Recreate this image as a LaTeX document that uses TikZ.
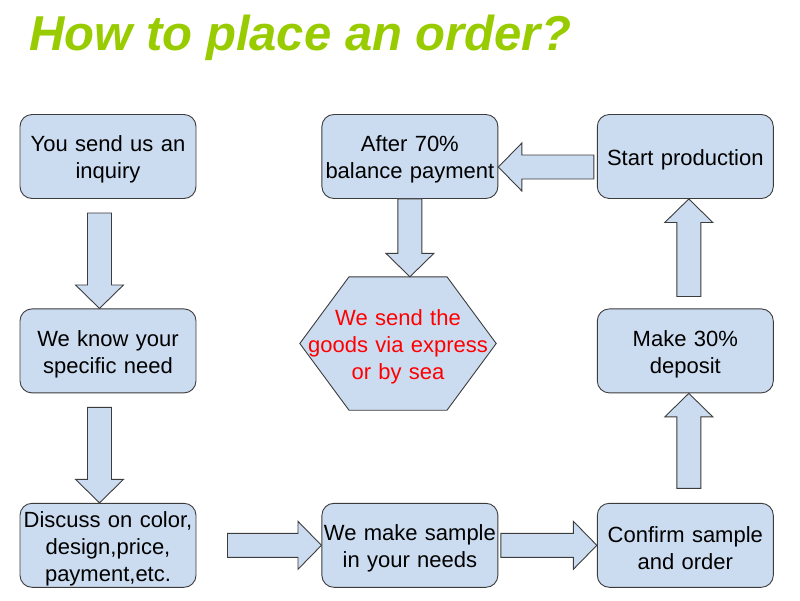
\documentclass[tikz,border=0pt]{standalone}
\usepackage{fontspec}
\setmainfont{Liberation Sans}
\usepackage{xcolor}
\usepackage{tikz}
\usetikzlibrary{positioning,calc,backgrounds}
\definecolor{azulclaro}{HTML}{CCDCF0}
\definecolor{verdelima}{HTML}{99CC00}
\definecolor{contorno}{HTML}{3C3C3C}
\definecolor{vermelho}{HTML}{FF0000}
\tikzset{
  caixa/.style={rectangle, rounded corners=12pt, draw=contorno, fill=azulclaro, line width=0.9pt,
    minimum width=176pt, minimum height=84pt, text width=176pt, align=center, inner sep=0pt,
    font=\fontsize{22}{27}\selectfont, execute at begin node={\rule{0pt}{22pt}}},
  envio/.style={minimum width=196pt, minimum height=133pt, text width=196pt, align=center, inner sep=0pt,
    text=vermelho, font=\fontsize{22}{27}\selectfont, execute at begin node={\rule{0pt}{23pt}}},
  hexagono/.style={draw=contorno, fill=azulclaro, line width=0.9pt},
  seta/.style={draw=contorno, fill=azulclaro, line width=0.9pt, line join=miter},
  titulo/.style={anchor=base west, inner sep=0pt, text=verdelima,
    font=\fontsize{49}{55}\selectfont\bfseries\itshape},
}
% seta larga: #1 = ponto de partida, #2 = ponta
\newcommand{\setalarga}[2]{%
  \coordinate (cabeca) at ($(#2)!23.5pt!(#1)$);
  \draw[seta] ($(#1)!12pt!90:(#2)$) -- ($(cabeca)!12pt!90:(#2)$) -- ($(cabeca)!24pt!90:(#2)$) -- (#2)
    -- ($(cabeca)!24pt!-90:(#2)$) -- ($(cabeca)!12pt!-90:(#2)$) -- ($(#1)!12pt!-90:(#2)$) -- cycle;}

\begin{document}
\begin{tikzpicture}[x=1pt, y=-1pt, node distance=109.5pt and 125pt]
    \useasboundingbox (0,0) rectangle (800,600);
    \node[titulo] (titulo) at (29,50) {How to place an order?};
    \node[caixa] (pedido) at (108,156.5) {You send us an\\ inquiry};
    \node[caixa, below=of pedido] (necessidade) {We know your\\ specific need};
    \node[caixa, below=of necessidade] (discussao) {Discuss on color,\\ design,price,\\ payment,etc.};
    \node[caixa, right=of discussao] (amostra) {We make sample\\ in your needs};
    \node[caixa, right=98.5pt of amostra] (confirmar) {Confirm sample\\ and order};
    \node[caixa, above=of confirmar] (deposito) {Make 30\%\\ deposit};
    \node[caixa, above=of deposito] (producao) {Start production};
    \node[caixa, right=of pedido] (pagamento) {After 70\%\\ balance payment};
    \node[envio] (envio) at (398,343.5) {We send the\\ goods via express\\ or by sea};
    \begin{scope}[on background layer]
      \draw[hexagono] (envio.west) -- ($(envio.north)+(-49,0)$) -- ($(envio.north)+(49,0)$) -- (envio.east)
        -- ($(envio.south)+(49,0)$) -- ($(envio.south)+(-49,0)$) -- cycle;
    \end{scope}
    % pontos de partida e pontas das setas
    \coordinate (s1) at ($(pedido.south)+(-8.5,14)$);
    \coordinate (p1) at ($(necessidade.north)+(-8.5,0)$);
    \coordinate (s2) at ($(necessidade.south)+(-8.5,14)$);
    \coordinate (p2) at ($(discussao.north)+(-8.5,0)$);
    \coordinate (s3) at ($(discussao.east)+(31,0)$);
    \coordinate (s4) at ($(amostra.east)+(2.5,0)$);
    \coordinate (s5) at ($(confirmar.north)+(3.5,-14.5)$);
    \coordinate (p5) at ($(deposito.south)+(3.5,0)$);
    \coordinate (s6) at ($(deposito.north)+(3.5,-12)$);
    \coordinate (p6) at ($(producao.south)+(3.5,0)$);
    \coordinate (s7) at ($(producao.west)+(-3,10.5)$);
    \coordinate (p7) at ($(pagamento.east)+(0,10.5)$);
    \coordinate (p8) at (pagamento.south |- envio.north);
    \setalarga{s1}{p1}
    \setalarga{s2}{p2}
    \setalarga{s3}{amostra.west}
    \setalarga{s4}{confirmar.west}
    \setalarga{s5}{p5}
    \setalarga{s6}{p6}
    \setalarga{s7}{p7}
    \setalarga{pagamento.south}{p8}
  \end{tikzpicture}
\end{document}
